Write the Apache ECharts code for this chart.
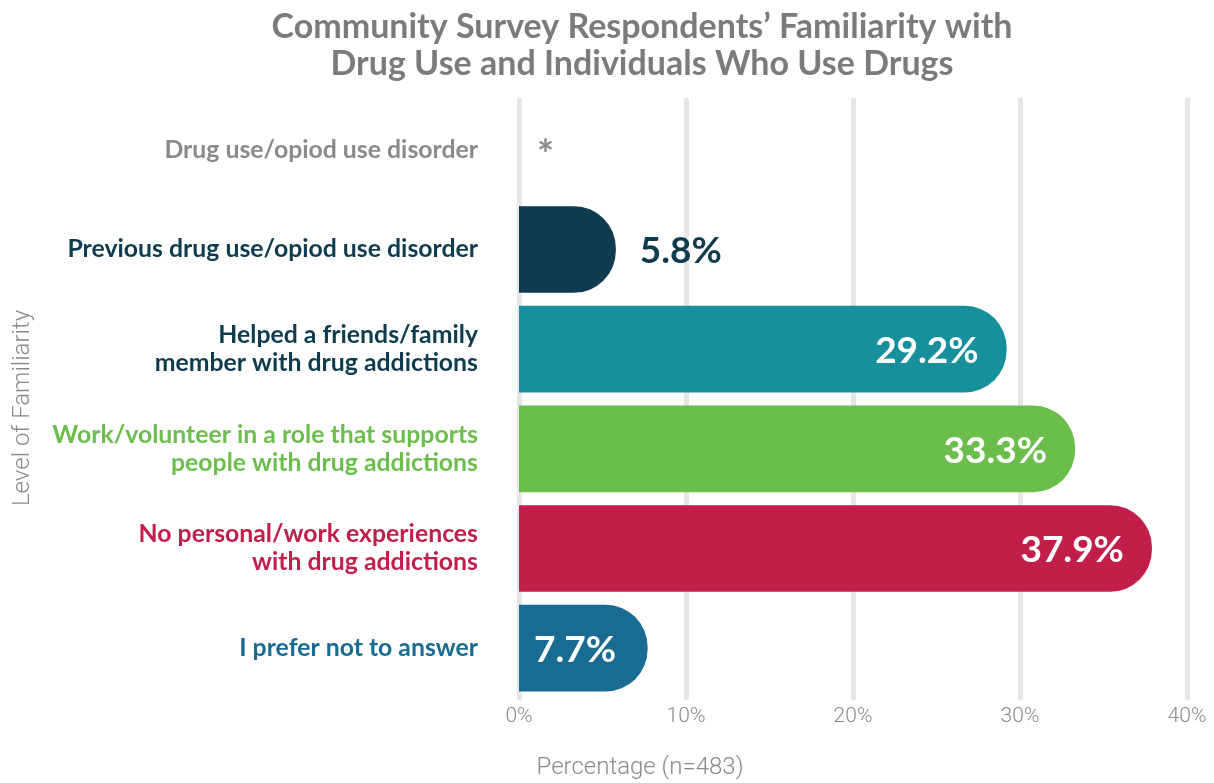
<!DOCTYPE html>
<html>
<head>
<meta charset="utf-8">
<script src="https://cdn.jsdelivr.net/npm/echarts@6/dist/echarts.min.js"></script>
<style>
  html, body { margin: 0; padding: 0; background: #ffffff; }
  #chart { width: 1214px; height: 783px; }
</style>
</head>
<body>
<div id="chart"></div>
<script>
// ---- data ----
const categories = [
  "Drug use/opiod use disorder",
  "Previous drug use/opiod use disorder",
  "Helped a friends/family\nmember with drug addictions",
  "Work/volunteer in a role that supports\npeople with drug addictions",
  "No personal/work experiences\nwith drug addictions",
  "I prefer not to answer"
];
// first value suppressed in the source (shown as "*")
const values = [0, 5.8, 29.2, 33.3, 37.9, 7.7];
const valueLabels = ["*", "5.8%", "29.2%", "33.3%", "37.9%", "7.7%"];
const xTicks = [0, 10, 20, 30, 40];
const yAxisTitle = "Level of Familiarity";
const xAxisTitle = "Percentage (n=483)";

// ---- styles ----
const barColors = ["#8a8a8c", "#0f3b4f", "#18909c", "#6cbe4c", "#c21e4a", "#1a6b91"];
const catColors = ["#8a8a8c", "#0f3b4f", "#0f3b4f", "#6cbe4c", "#c21e4a", "#1a6b91"];
const labelPos = ["right", "right", "insideRight", "insideRight", "insideRight", "insideLeft"];
const labelCol = ["#8a8a8c", "#0f3b4f", "#ffffff", "#ffffff", "#ffffff", "#ffffff"];
const labelDist = [18, 24, 28, 28, 28, 15];
const FONT = "Lato, 'Noto Sans', sans-serif";
const LIGHT = "Roboto, sans-serif";

const richCat = {};
catColors.forEach((c, i) => {
  richCat['c' + i] = { color: c, fontFamily: FONT, fontWeight: 700, fontSize: 24.8, lineHeight: 28, align: 'right' };
});

const chart = echarts.init(document.getElementById('chart'), null, { renderer: 'canvas' });

const data = values.map((v, i) => ({
  value: v,
  itemStyle: { color: barColors[i], borderRadius: [0, 42, 42, 0] },
  label: {
    show: true,
    position: labelPos[i],
    formatter: valueLabels[i],
    color: labelCol[i],
    fontFamily: FONT,
    fontWeight: 700,
    fontSize: i === 0 ? 40 : 37,
    distance: labelDist[i],
    offset: i === 0 ? [0, 6] : [0, 2]
  }
}));

chart.setOption({
  animation: false,
  title: {
    text: "Community Survey Respondents\u2019 Familiarity with\nDrug Use and Individuals Who Use Drugs",
    left: 637,
    textAlign: 'center',
    top: 4,
    textStyle: {
      color: '#7b7b7d',
      fontFamily: FONT,
      fontWeight: 700,
      fontSize: 34,
      lineHeight: 37
    }
  },
  graphic: [{
    type: 'text',
    x: 23,
    y: 408,
    rotation: Math.PI / 2,
    style: {
      text: yAxisTitle,
      fill: '#8a8a8c',
      font: "300 24px Roboto, sans-serif",
      textAlign: 'center',
      textVerticalAlign: 'middle'
    }
  }],
  grid: { left: 519, right: 27, top: 100, bottom: 85, containLabel: false, outerBoundsMode: 'none' },
  xAxis: {
    type: 'value',
    min: 0,
    max: 40,
    interval: 10,
    name: xAxisTitle,
    nameLocation: 'middle',
    nameGap: 58,
    nameTextStyle: { color: '#8a8a8c', fontFamily: LIGHT, fontWeight: 300, fontSize: 24, padding: [0, 426, 0, 0] },
    axisLine: { show: false },
    axisTick: { show: false },
    axisLabel: {
      formatter: v => xTicks.includes(v) ? v + '%' : '',
      color: '#8a8a8c',
      fontFamily: LIGHT,
      fontWeight: 300,
      fontSize: 21,
      margin: 8
    },
    splitLine: { show: true, lineStyle: { color: '#e6e6e8', width: 5, cap: 'round' } }
  },
  yAxis: {
    type: 'category',
    inverse: true,
    data: categories,
    axisLine: { show: false },
    axisTick: { show: false },
    axisLabel: {
      margin: 41,
      formatter: (val, idx) => val.split('\n').map(s => '{c' + idx + '|' + s + '}').join('\n'),
      rich: richCat
    }
  },
  series: [{
    type: 'bar',
    data: data,
    barCategoryGap: '13%'
  }]
});
</script>
</body>
</html>
